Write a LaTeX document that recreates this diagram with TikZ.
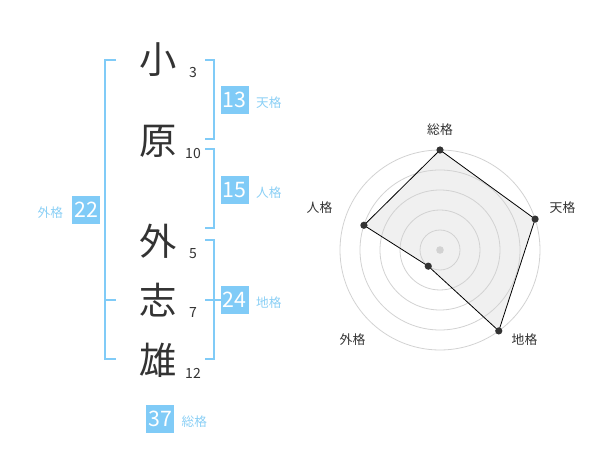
\documentclass[tikz,border=0pt]{standalone}
\usepackage{fontspec}
\newfontfamily\jp{Noto Sans CJK JP}
\definecolor{kblue}{HTML}{80CBF7}
\definecolor{klabel}{HTML}{8ACFF5}
\definecolor{kdark}{HTML}{333333}
\definecolor{kring}{HTML}{D2D2D2}
\definecolor{karea}{HTML}{F0F0F0}
\tikzset{
  kanji/.style={font=\jp\fontsize{28}{28}\selectfont, text=kdark},
  strokes/.style={font=\jp\fontsize{10.5}{10.5}\selectfont, text=kdark},
  scorebox/.style={fill=kblue, text=white, minimum size=21pt, inner sep=0pt, font=\jp\fontsize{16}{16}\selectfont},
  kaku/.style={text=klabel, font=\jp\fontsize{9.5}{9.5}\selectfont},
  brace/.style={draw=kblue, line width=1.5pt},
  ring/.style={draw=kring, line width=0.6pt},
  axis/.style={text=kdark, font=\jp\fontsize{9.6}{9.6}\selectfont}
}
\begin{document}
\begin{tikzpicture}[x=0.75pt,y=-0.75pt]
    \useasboundingbox (0,0) rectangle (600,470);
    % name and strokes
    \foreach \k/\y/\s/\n in {小/60/3/1, 原/141/10/2, 外/241/5/3, 志/300/7/4, 雄/360/12/5} {
      \node[kanji] (c\n) at (158,\y) {\k};
      \node[strokes] (s\n) at (193,\y+13) {\s};
    }
    % brackets
    \draw[brace] (116,60) -- (105,60) -- (105,359) -- (116,359);
    \draw[brace] (105,300) -- (116,300);
    \draw[brace] (205,60) -- (214,60) -- (214,139) -- (205,139);
    \draw[brace] (205,149) -- (214,149) -- (214,228) -- (205,228);
    \draw[brace] (205,240) -- (214,240) -- (214,359) -- (205,359);
    \draw[brace] (205,300) -- (221,300);
    % scores
    \foreach \v/\x/\y/\t/\n in {13/234.5/100/天格/ten, 15/234.5/190/人格/jin, 24/234.5/300/地格/chi} {
      \node[scorebox] (b\n) at (\x,\y) {\v};
      \node[kaku, right=2pt] (l\n) at ([yshift=-2pt]b\n.east) {\t};
    }
    \node[scorebox] (bgai) at (86,210) {22};
    \node[kaku, left=3pt] (lgai) at ([yshift=-2pt]bgai.west) {外格};
    \node[scorebox] (bsou) at (160,419) {37};
    \node[kaku, right=2pt] (lsou) at ([yshift=-2pt]bsou.east) {総格};
    % radar
    \begin{scope}[shift={(440,250)}, yscale=-1]
      \foreach \a/\r/\n in {90/100/sou, 18/100/ten, -54/100/chi, -126/20/gai, 162/80/jin} { \coordinate (v\n) at (\a:\r); }
      \fill[karea] (vsou) -- (vten) -- (vchi) -- (vgai) -- (vjin) -- cycle;
      \foreach \r in {20,40,...,100} { \draw[ring] (0,0) circle (\r); }
      \fill[kring] (0,0) circle (3.8);
      \draw[black, line width=0.6pt] (vsou) -- (vten) -- (vchi) -- (vgai) -- (vjin) -- cycle;
      \foreach \n in {sou, ten, chi, gai, jin} { \fill[kdark] (v\n) circle (3.6); }
      \node[axis] (asou) at (0,120) {総格};
      \node[axis] (aten) at (122.5,42) {天格};
      \node[axis] (achi) at (84.5,-90) {地格};
      \node[axis] (agai) at (-87.5,-90) {外格};
      \node[axis] (ajin) at (-120.5,42) {人格};
    \end{scope}
\end{tikzpicture}
\end{document}
